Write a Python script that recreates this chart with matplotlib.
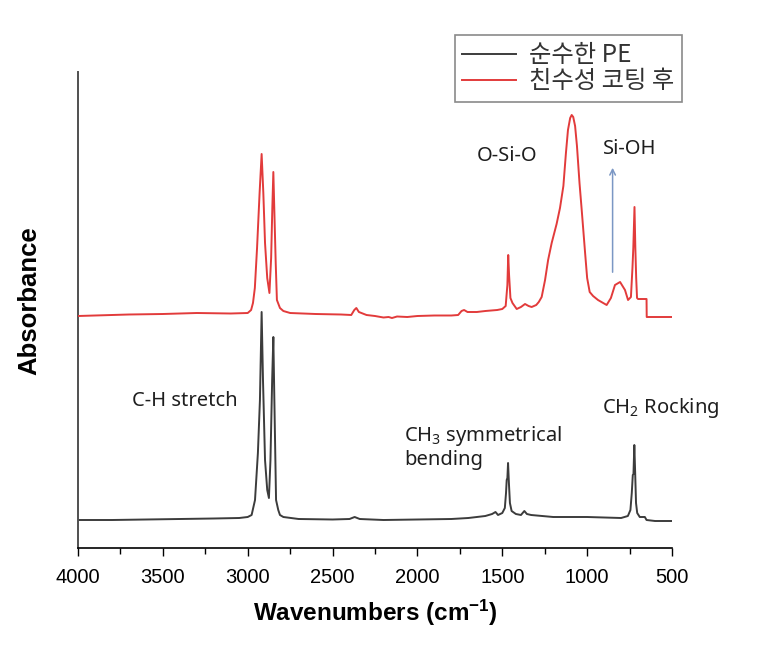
import matplotlib
matplotlib.use('Agg')
import matplotlib.pyplot as plt
from matplotlib.lines import Line2D

plt.rcParams['mathtext.fontset'] = 'custom'
plt.rcParams['mathtext.rm'] = 'Noto Sans'
plt.rcParams['mathtext.it'] = 'Noto Sans:italic'
plt.rcParams['mathtext.bf'] = 'Liberation Sans:bold'

# pure PE spectrum (arbitrary absorbance units)
pe_wn = [4000, 3800, 3600, 3400, 3200, 3050, 3000, 2977, 2957, 2940, 2928, 2918,
         2910, 2898, 2885, 2875, 2866, 2856, 2849, 2843, 2833, 2820, 2810, 2790,
         2700, 2500, 2400, 2370, 2355, 2340, 2200, 2000, 1800, 1700, 1600, 1560,
         1540, 1525, 1500, 1485, 1478, 1474, 1470, 1466, 1461, 1455, 1445, 1420,
         1390, 1370, 1355, 1330, 1200, 1000, 900, 800, 760, 745, 737, 731, 727,
         722, 717, 712, 705, 690, 660, 650, 600, 500]
pe_abs = [0.28, 0.28, 0.285, 0.29, 0.295, 0.30, 0.31, 0.33, 0.48, 0.95, 1.48, 2.36,
          1.68, 0.88, 0.58, 0.50, 0.88, 1.68, 2.11, 1.48, 0.48, 0.38, 0.33, 0.31,
          0.29, 0.285, 0.29, 0.31, 0.30, 0.29, 0.28, 0.285, 0.29, 0.30, 0.32, 0.34,
          0.36, 0.33, 0.35, 0.40, 0.55, 0.68, 0.70, 0.85, 0.65, 0.45, 0.37, 0.34,
          0.33, 0.37, 0.34, 0.33, 0.31, 0.31, 0.305, 0.30, 0.32, 0.38, 0.55, 0.73, 0.74,
          1.03, 0.75, 0.45, 0.35, 0.31, 0.31, 0.28, 0.27, 0.27]

# after hydrophilic coating (stacked above PE)
coat_wn = [4000, 3900, 3700, 3500, 3300, 3100, 3000, 2980, 2969, 2958, 2945, 2930,
           2918, 2908, 2898, 2885, 2872, 2862, 2855, 2849, 2842, 2835, 2828, 2810,
           2790, 2750, 2600, 2450, 2390, 2372, 2360, 2345, 2330, 2300, 2250, 2200,
           2170, 2150, 2120, 2060, 2000, 1900, 1800, 1760, 1740, 1725, 1705, 1650,
           1600, 1530, 1500, 1480, 1470, 1465, 1460, 1452, 1440, 1415, 1390, 1366,
           1345, 1327, 1300, 1285, 1268, 1248, 1230, 1209, 1180, 1160, 1140, 1125,
           1113, 1100, 1091, 1082, 1071, 1060, 1045, 1032, 1012, 1000, 985, 965, 936,
           885, 860, 836, 806, 777, 759, 742, 733, 728, 721, 716, 711, 706, 700, 650,
           649, 500]
coat_abs = [2.32, 2.325, 2.335, 2.34, 2.35, 2.345, 2.35, 2.38, 2.45, 2.60, 3.00, 3.55,
            3.94, 3.55, 3.05, 2.70, 2.55, 2.90, 3.40, 3.76, 3.30, 2.85, 2.48, 2.40,
            2.37, 2.35, 2.34, 2.335, 2.33, 2.38, 2.40, 2.36, 2.35, 2.33, 2.32, 2.305,
            2.31, 2.30, 2.315, 2.31, 2.32, 2.325, 2.325, 2.33, 2.37, 2.38, 2.36, 2.36,
            2.37, 2.38, 2.39, 2.42, 2.63, 2.93, 2.73, 2.50, 2.45, 2.39, 2.41, 2.44,
            2.42, 2.41, 2.43, 2.46, 2.51, 2.68, 2.88, 3.05, 3.24, 3.40, 3.62, 3.95,
            4.18, 4.30, 4.33, 4.31, 4.22, 4.02, 3.65, 3.38, 2.95, 2.70, 2.56, 2.52, 2.48,
            2.43, 2.50, 2.63, 2.66, 2.58, 2.48, 2.51, 2.80, 3.00, 3.41, 3.00, 2.70, 2.50,
            2.49, 2.49, 2.31, 2.31]

legend_labels = ['순수한 PE', '친수성 코팅 후']
x_ticks = [4000, 3500, 3000, 2500, 2000, 1500, 1000, 500]

black = '#3c3c3c'
red = '#e23b3b'

fig = plt.figure(figsize=(7.62, 6.52), dpi=100)
ax = fig.add_axes([78/762, 1 - 548/652, (672 - 78)/762, (548 - 72)/652])

ax.plot(pe_wn, pe_abs, color=black, lw=1.4, zorder=2)
ax.plot(coat_wn, coat_abs, color=red, lw=1.4, zorder=3)

ax.set_xlim(4000, 500)
ax.set_ylim(0, 4.76)
ax.set_xticks(x_ticks)
ax.set_xticks(range(500, 4001, 250), minor=True)
ax.set_yticks([])
ax.tick_params(axis='x', which='major', direction='out', length=5.5, width=1, pad=9,
               labelsize=14.5)
ax.tick_params(axis='x', which='minor', direction='out', length=4, width=1)
for lbl in ax.get_xticklabels():
    lbl.set_family('Liberation Sans')

ax.spines['top'].set_visible(False)
ax.spines['right'].set_visible(False)
ax.spines['left'].set_color('#505050')
ax.spines['left'].set_linewidth(1.4)
ax.spines['bottom'].set_linewidth(1.2)

ax.set_xlabel(r'Wavenumbers (cm$^{\mathbf{-1}}$)', family='Liberation Sans',
              weight='bold', fontsize=17.5, labelpad=8)
ax.set_ylabel('Absorbance', family='Liberation Sans', weight='bold', fontsize=18.5)
ax.yaxis.set_label_coords(-0.061, 0.519)

ann = dict(family='Noto Sans', fontsize=14.5, color='#1e1e1e')
ax.text(1472, 3.92, 'O-Si-O', ha='center', va='center', **ann)
ax.text(747, 3.99, 'Si-OH', ha='center', va='center', **ann)
ax.annotate('', xy=(850, 3.83), xytext=(850, 2.73),
            arrowprops=dict(arrowstyle='->', color='#7b97c4', lw=1.1))
ax.text(3370, 1.47, 'C-H stretch', ha='center', va='center', **ann)
ax.text(2079, 1.01, 'CH$_3$ symmetrical\nbending', ha='left', va='center',
        linespacing=1.15, **ann)
ax.text(912, 1.40, 'CH$_2$ Rocking', ha='left', va='center', **ann)

handles = [Line2D([], [], color=black, lw=1.4), Line2D([], [], color=red, lw=1.4)]
leg = fig.legend(handles, legend_labels, loc='upper left',
                 bbox_to_anchor=(455/762, 1 - 35/652), borderaxespad=0,
                 prop={'family': ['Noto Sans CJK KR', 'DejaVu Sans'], 'size': 17.5},
                 handlelength=2.2, handletextpad=0.55, labelspacing=0.0,
                 borderpad=0.3, fancybox=False, framealpha=1, edgecolor='#8a8a8a')
leg.get_frame().set_linewidth(1.2)
for t in leg.get_texts():
    t.set_color('#333333')

fig.savefig('out.png', dpi=100)
